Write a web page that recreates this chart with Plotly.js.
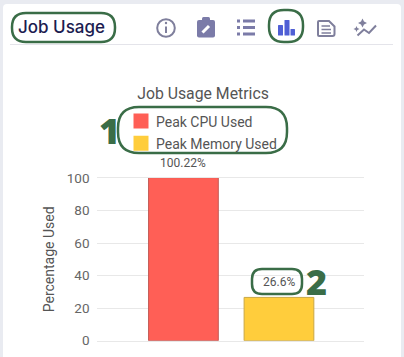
<!DOCTYPE html>
<html><head><meta charset="utf-8">
<script src="https://cdn.plot.ly/plotly-3.0.1.min.js"></script>
<style>html,body{margin:0;padding:0;background:#e9ebf1;overflow:hidden}#c{width:404px;height:357px}</style>
</head><body><div id="c"></div>
<script>
const categories = ["Peak CPU Used", "Peak Memory Used"];
const peakValues = [100.22, 26.6];
const barColors = ["#ff5f56", "#ffcd3c"];
const barEdges = ["#c25a55", "#c9a845"];
const yTicks = [0, 20, 40, 60, 80, 100];

const W = 404, H = 357;
const GREEN = "#3a6d47", ICON = "#7f7f9c", ICON2 = "#7b7ba8", BLUE = "#4f5fd5";
const px = x => x / W, py = y => 1 - y / H;
const conv = s => s.replace(/(-?[\d.]+) (-?[\d.]+)/g, (m, x, y) => px(+x) + "," + py(+y));
const pathShape = (d, o) => Object.assign({type: "path", xref: "paper", yref: "paper", path: conv(d), line: {width: 0}}, o);
function rr(x0, y0, x1, y1, r) {
  return `M ${x0 + r} ${y0} L ${x1 - r} ${y0} Q ${x1} ${y0} ${x1} ${y0 + r} L ${x1} ${y1 - r} Q ${x1} ${y1} ${x1 - r} ${y1} L ${x0 + r} ${y1} Q ${x0} ${y1} ${x0} ${y1 - r} L ${x0} ${y0 + r} Q ${x0} ${y0} ${x0 + r} ${y0} Z`;
}
const stroke = (d, color, width) => pathShape(d, {line: {color, width}});
const fill = (d, color) => pathShape(d, {fillcolor: color, line: {width: 0}});
const pill = (a, b, c, d, r) => stroke(rr(a, b, c, d, r), GREEN, 2.5);
const circle = (cx, cy, r, o) => Object.assign({type: "circle", xref: "paper", yref: "paper", x0: px(cx - r), x1: px(cx + r), y0: py(cy + r), y1: py(cy - r), line: {width: 0}}, o);

const shapes = [
  Object.assign(fill(rr(3, 4, 401, 370, 4), "#ffffff"), {layer: "below"}),
  Object.assign(stroke("M 10 44.5 L 393 44.5", "#e4e4ea", 1), {layer: "below"}),
  pill(12, 13, 115, 42, 14),
  pill(269, 10, 303, 42, 15),
  pill(118, 107, 287, 153, 21),
  pill(252, 269, 302, 294, 10),
  circle(166, 28, 8.8, {line: {color: ICON, width: 2}}),
  stroke("M 166 26.5 L 166 33", ICON, 2),
  circle(166, 23, 1.2, {fillcolor: ICON}),
  fill(rr(197, 20, 215, 37.5, 2), ICON2),
  fill(rr(202, 17, 210, 22, 1.5), ICON2),
  stroke("M 202.5 32.5 L 209 26", "#ffffff", 3),
  stroke("M 237 21 L 240 21 M 243 21 L 255 21", ICON2, 3),
  stroke("M 237 27.5 L 240 27.5 M 243 27.5 L 255 27.5", ICON2, 3),
  stroke("M 237 34 L 240 34 M 243 34 L 255 34", ICON2, 3),
  fill(rr(278, 25, 283, 35.5, .6), BLUE),
  fill(rr(284.5, 20, 289.5, 35.5, .6), BLUE),
  fill(rr(290.5, 29, 295, 35.5, .6), BLUE),
  stroke("M 319 21 L 329 21 L 334.5 26.5 L 334.5 34 Q 334.5 36 332.5 36 L 319 36 Q 318 36 318 35 L 318 22 Q 318 21 319 21 Z", ICON, 2),
  stroke("M 321.5 26 L 330 26 M 321.5 29.5 L 331 29.5 M 321.5 33 L 331 33", ICON, 1.6),
  stroke("M 357.5 35.5 L 364 29.5 L 369 33 L 376 25.5", ICON, 2),
  fill("M 362.5 18.5 L 364 21.5 L 367 23 L 364 24.5 L 362.5 27.5 L 361 24.5 L 358 23 L 361 21.5 Z", ICON),
  fill("M 356.5 26 L 357.4 28.1 L 359.5 29 L 357.4 29.9 L 356.5 32 L 355.6 29.9 L 353.5 29 L 355.6 28.1 Z", ICON)
];

const ann = (text, x, y, size, color, family, weight) => ({
  text, xref: "paper", yref: "paper", x: px(x), y: py(y), xanchor: "center", yanchor: "middle",
  showarrow: false, font: {size, color, family, weight: weight || 400}
});
const annotations = [
  ann("Job Usage", 61.5, 27.5, 17, "#1c1c50", "Inter, sans-serif", 500),
  ann("1", 109.5, 130.5, 36, GREEN, "Open Sans, sans-serif", 800),
  ann("2", 316, 281, 36, GREEN, "Open Sans, sans-serif", 800)
].concat(peakValues.map((v, i) => ({
  text: v + "%", xref: "x", yref: "y", x: i, y: Math.min(v, 100), yshift: 15, xanchor: "center", yanchor: "middle",
  showarrow: false, font: {family: "Roboto, sans-serif", size: 12, color: "#555"}
})));

const traces = categories.map((name, i) => ({
  type: "bar", name, x: [i], y: [peakValues[i]], width: 0.73, legendgroup: name,
  marker: {color: barColors[i], line: {color: barEdges[i], width: 1}},
  hoverinfo: "none"
}));

const layout = {
  width: W, height: H, margin: {l: 0, r: 0, t: 0, b: 0, pad: 0},
  paper_bgcolor: "#e9ebf1", plot_bgcolor: "rgba(0,0,0,0)",
  font: {family: "Roboto, sans-serif", color: "#555"},
  title: {text: "Job Usage Metrics", x: px(203), xref: "paper", xanchor: "center", y: py(93), yanchor: "middle", yref: "paper",
    font: {family: "Roboto, sans-serif", size: 15.8, color: "#555"}},
  showlegend: true,
  legend: {x: px(116), y: py(105.5), xanchor: "left", yanchor: "top", orientation: "v", bgcolor: "rgba(0,0,0,0)",
    font: {family: "Roboto, sans-serif", size: 14, color: "#555"}, tracegroupgap: 1, itemclick: false, itemwidth: 30},
  xaxis: {domain: [px(96.5), px(364)], range: [-0.91, 1.89], showticklabels: false, ticks: "", showgrid: false, zeroline: false,
    showline: true, mirror: true, linecolor: "#e8e8e8", linewidth: 1, fixedrange: true, tickvals: [0, 1]},
  yaxis: {domain: [py(340.7), py(178)], range: [0, 100], tickvals: yTicks, ticks: "", showgrid: true, gridcolor: "#e8e8e8", zeroline: false,
    showline: false, fixedrange: true, ticklabelstandoff: 6,
    tickfont: {family: "Roboto, sans-serif", size: 13.5, color: "#666"},
    title: {text: "Percentage Used", standoff: 8, font: {family: "Roboto, sans-serif", size: 14, color: "#555"}}},
  bargap: 0.27, shapes, annotations
};
Plotly.newPlot("c", traces, layout, {displayModeBar: false, staticPlot: true}).then(() => {
  document.querySelectorAll("#c .legendsymbols").forEach(n => n.setAttribute("transform", "translate(5,0)"));
  document.querySelectorAll("#c .legendsymbols path").forEach(n => {
    n.style.stroke = n.style.fill;
    n.style.strokeWidth = "3px";
  });
});
</script></body></html>
